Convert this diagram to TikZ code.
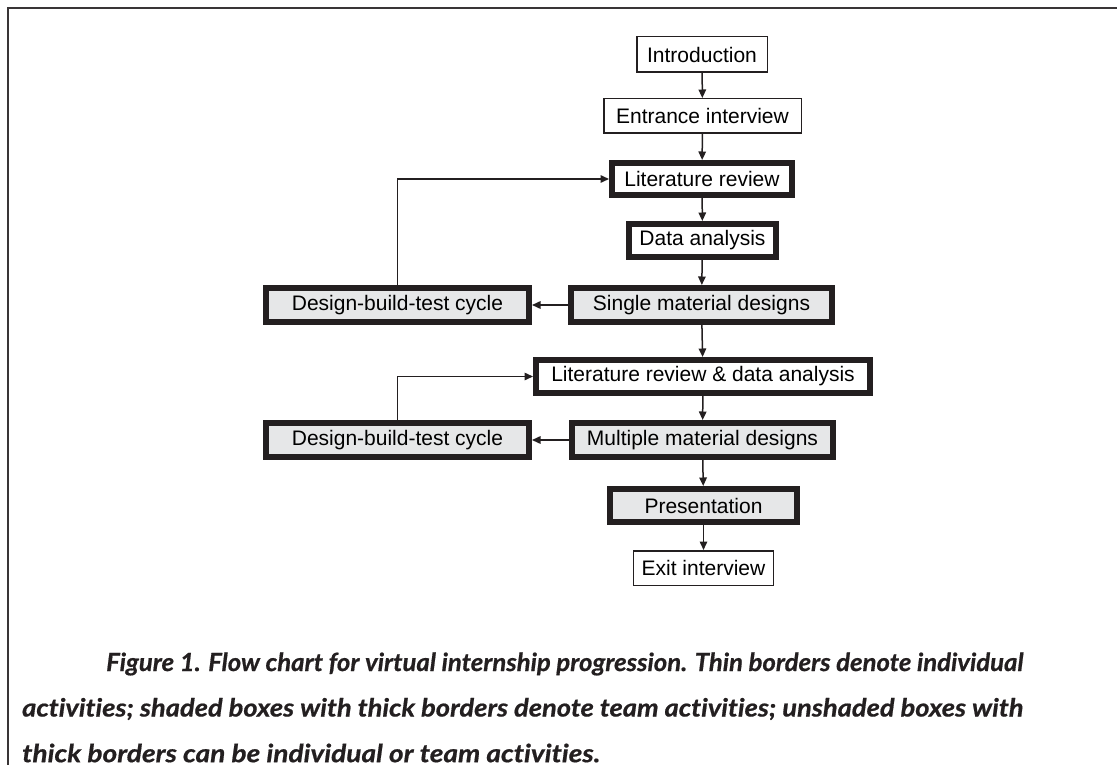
\documentclass[tikz,border=0pt]{standalone}
\usepackage{fontspec}
\usepackage{graphicx}
\setmainfont{Liberation Sans}
\newfontfamily\capfont[Ligatures={NoCommon}, FakeBold=0.6]{Lato}
\usetikzlibrary{arrows.meta}
\definecolor{ink}{HTML}{231F20}
\definecolor{shade}{HTML}{E6E7E8}
\tikzset{
  thinbox/.style={draw=ink, line width=1.5pt, fill=white, inner sep=0pt, font=\fontsize{21}{24}\selectfont},
  thickbox/.style={draw=ink, line width=6pt, fill=white, inner sep=0pt, font=\fontsize{21}{24}\selectfont},
  teambox/.style={thickbox, fill=shade},
  conn/.style={draw=ink, line width=1.5pt, -{Triangle[length=8.5pt,width=7.5pt]}},
  captext/.style={anchor=west, inner sep=0pt, text=ink, font=\capfont\bfseries\itshape\fontsize{25}{29}\selectfont}
}
\begin{document}
\begin{tikzpicture}[x=1pt,y=1pt]
\useasboundingbox (0,0) rectangle (1117,-765);
\draw[draw=ink!90, line width=2pt] (8,-765) -- (8,-8) -- (1117,-8);
\node[thinbox, minimum width=130.5pt, minimum height=35.5pt] (intro) at (702,-54.5) {Introduction};
\node[thinbox, minimum width=197.5pt, minimum height=34.5pt] (entr) at (702.5,-116) {Entrance interview};
\node[thickbox, minimum width=180pt, minimum height=32pt] (lit) at (702,-179) {Literature review};
\node[thickbox, minimum width=147pt, minimum height=33pt] (data) at (702.5,-240.5) {Data analysis};
\node[teambox, minimum width=261pt, minimum height=34pt] (single) at (701.5,-305) {Single material designs};
\node[teambox, minimum width=263pt, minimum height=34pt] (dbta) at (397.5,-305) {Design-build-test cycle};
\node[thickbox, minimum width=334pt, minimum height=33pt] (lrda) at (703,-376.5) {Literature review \& data analysis};
\node[teambox, minimum width=261pt, minimum height=34pt] (multi) at (702.5,-440) {Multiple material designs};
\node[teambox, minimum width=263pt, minimum height=34pt] (dbtb) at (397.5,-440) {Design-build-test cycle};
\node[teambox, minimum width=187pt, minimum height=33pt] (pres) at (703.5,-505.5) {Presentation};
\node[thinbox, minimum width=140pt, minimum height=34.5pt] (exit) at (703.5,-568) {Exit interview};
\draw[conn] (intro) -- (entr);
\draw[conn] (entr) -- (lit);
\draw[conn] (lit) -- (data);
\draw[conn] (data) -- (single);
\draw[conn] (single) -- (dbta);
\draw[conn] (dbta.north) |- (lit.west);
\draw[conn] (single) -- (lrda);
\draw[conn] (lrda) -- (multi);
\draw[conn] (multi) -- (dbtb);
\draw[conn] (dbtb.north) |- (lrda.west);
\draw[conn] (multi) -- (pres);
\draw[conn] (pres) -- (exit);
\node[captext] (cap1) at (106,-664) {\resizebox{917pt}{\height}{Figure 1. Flow chart for virtual internship progression. Thin borders denote individual}};
\node[captext] (cap2) at (22,-709) {\resizebox{1001pt}{\height}{activities; shaded boxes with thick borders denote team activities; unshaded boxes with}};
\node[captext] (cap3) at (22,-753) {\resizebox{578pt}{\height}{thick borders can be individual or team activities.}};
\end{tikzpicture}
\end{document}
